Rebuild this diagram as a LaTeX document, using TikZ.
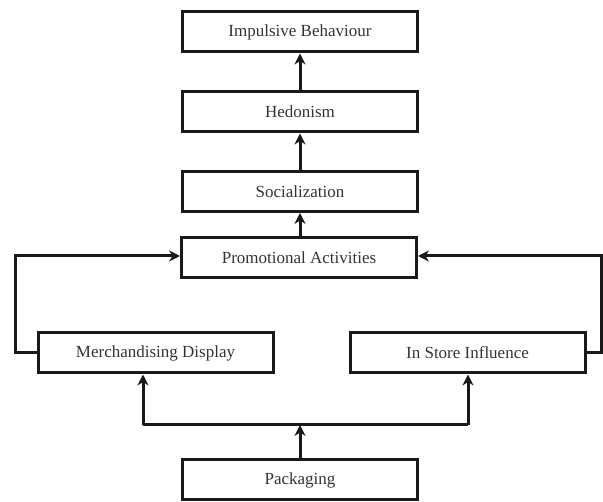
\documentclass[tikz,border=0pt]{standalone}
\usepackage{fontspec}
\setmainfont{Liberation Serif}
\usetikzlibrary{arrows.meta}
\begin{document}
\begin{tikzpicture}[x=1pt,y=-1pt,
  box/.style={draw=black!90, line width=3pt, minimum width=235pt, minimum height=40pt,
    inner sep=0pt, font=\fontsize{17}{19}\selectfont, text=black!80},
  link/.style={draw=black!90, line width=3pt, -{Stealth[length=11pt,width=11pt]}},
  plain/.style={draw=black!90, line width=3pt}]
  \useasboundingbox (0,0) rectangle (603,502);
  % column of boxes
  \node[box] (imp)  at (300,32)  {Impulsive Behaviour};
  \node[box] (hed)  at (300,112) {Hedonism};
  \node[box] (soc)  at (300,191.5) {Socialization};
  \node[box] (pro)  at (299,257.5) {Promotional Activities};
  \node[box] (mer)  at (155.5,353) {Merchandising Display};
  \node[box] (ins)  at (467.5,353) {In Store Influence};
  \node[box] (pac)  at (300,480) {Packaging};
  % junction points
  \coordinate (j)  at (300,425);
  \coordinate (jl) at (143,425);
  \coordinate (jr) at (468,425);
  \coordinate (ll) at (15,353);
  \coordinate (lt) at (15,256);
  \coordinate (rr) at (601,353);
  \coordinate (rt) at (601,256);
  % vertical chain
  \draw[link] (hed.north) -- (imp.south);
  \draw[link] (soc.north) -- (hed.south);
  \draw[link] (pro.north -| soc.south) -- (soc.south);
  % side feedback loops
  \draw[link] (mer.west) -- (ll) -- (lt) -- (lt -| pro.west);
  \draw[link] (ins.east) -- (rr) -- (rt) -- (rt -| pro.east);
  % packaging fan-out
  \draw[link] (pac.north) -- (j);
  \draw[plain] (jl) -- (jr);
  \draw[link] (jl) -- (jl |- mer.south);
  \draw[link] (jr) -- (jr |- ins.south);
\end{tikzpicture}
\end{document}
